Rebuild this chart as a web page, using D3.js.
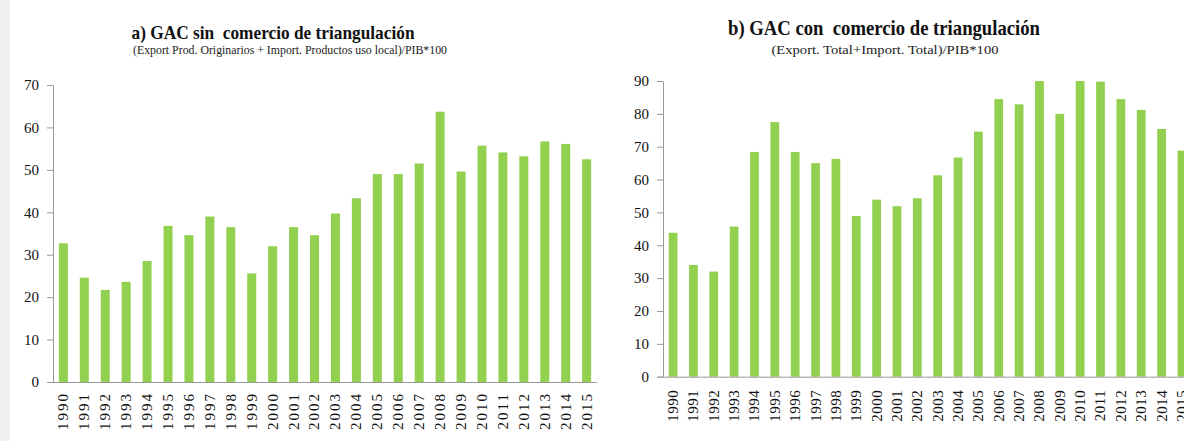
<!DOCTYPE html>
<html><head><meta charset="utf-8">
<script src="https://cdn.jsdelivr.net/npm/d3@7"></script>
<style>
body{margin:0;background:#fff;}
svg{display:block;font-family:"Liberation Serif","Times New Roman",serif;}
</style></head>
<body><svg id="c" width="1184" height="441"></svg>
<script>
const years = ["1990","1991","1992","1993","1994","1995","1996","1997","1998","1999","2000","2001","2002","2003","2004","2005","2006","2007","2008","2009","2010","2011","2012","2013","2014","2015"];
const valuesA = [32.7,24.6,21.7,23.6,28.5,36.8,34.6,39.0,36.5,25.6,32.0,36.5,34.6,39.7,43.3,49.0,49.0,51.5,63.7,49.6,55.7,54.1,53.2,56.7,56.1,52.5];
const valuesB = [43.8,34.0,32.0,45.7,68.4,77.5,68.4,65.0,66.3,48.9,53.9,51.9,54.3,61.3,66.7,74.6,84.5,82.9,90.3,80.0,90.3,89.8,84.5,81.2,75.4,68.8];
const ticksA = [0,10,20,30,40,50,60,70];
const ticksB = [0,10,20,30,40,50,60,70,80,90];
const titleA = "a) GAC sin  comercio de triangulación";
const subA = "(Export Prod. Originarios + Import. Productos uso local)/PIB*100";
const titleB = "b) GAC con  comercio de triangulación";
const subB = "(Export. Total+Import. Total)/PIB*100";

const FONT = '"Liberation Serif","Times New Roman",serif';
const svg = d3.select("#c");
svg.append("rect").attr("x",0).attr("y",0).attr("width",10).attr("height",441).attr("fill","#f0f0f0");

function panel(cfg){
  const g = svg.append("g");
  const x = d3.scaleBand().domain(years).range([cfg.x0, cfg.x1]).paddingInner(0.57).paddingOuter(0.28);
  const y = d3.scaleLinear().domain([0, cfg.max]).range([cfg.y0, cfg.y1]);
  g.selectAll("rect.bar").data(cfg.values).join("rect")
    .attr("class","bar")
    .attr("x",(d,i)=>x(years[i]))
    .attr("width",x.bandwidth())
    .attr("y",d=>y(Math.min(d,cfg.max)))
    .attr("height",d=>y(0)-y(Math.min(d,cfg.max)))
    .attr("fill","#92d050");
  // y axis
  const ya = g.append("g").attr("transform",`translate(${cfg.x0},0)`)
    .call(d3.axisLeft(y).tickValues(cfg.ticks).tickSize(6).tickPadding(8).tickSizeOuter(0))
    .attr("font-family",FONT);
  ya.select(".domain").attr("stroke","#999");
  ya.selectAll(".tick line").attr("stroke","#999");
  ya.selectAll(".tick text").attr("font-size",15).attr("fill","#111");
  // x axis
  const xa = g.append("g").attr("transform",`translate(0,${cfg.y0})`)
    .call(d3.axisBottom(x).tickSize(0).tickSizeOuter(0).tickPadding(0))
    .attr("font-family",FONT);
  xa.select(".domain").attr("stroke","#999").attr("d",`M${cfg.x0-6},0.5H${cfg.x1}`);
  xa.selectAll(".tick text")
    .attr("font-size",15).attr("fill","#111")
    .attr("letter-spacing",cfg.ls)
    .attr("text-anchor","end")
    .attr("transform",`translate(0,${cfg.lab}) rotate(-90)`)
    .attr("x",0).attr("y",0).attr("dy","0.33em");
  svg.append("text").attr("x",cfg.tx).attr("y",cfg.ty).attr("text-anchor","middle")
    .attr("font-weight","bold").attr("font-size",cfg.tfs).style("white-space","pre").attr("fill","#111")
    .attr("textLength",cfg.tw).attr("lengthAdjust","spacingAndGlyphs").text(cfg.title);
  svg.append("text").attr("x",cfg.sx).attr("y",cfg.sy).attr("text-anchor","middle")
    .attr("font-size",13.5).attr("fill","#222")
    .attr("textLength",cfg.sw).attr("lengthAdjust","spacingAndGlyphs").text(cfg.sub);
}
panel({values:valuesA,ticks:ticksA,max:70,x0:53,x1:597,y0:382,y1:85,lab:10,ls:2,
  title:titleA,sub:subA,tx:273,ty:39,tfs:19,tw:283,sx:290,sy:54,sw:314});
panel({values:valuesB,ticks:ticksB,max:90,x0:663,x1:1192,y0:376.7,y1:81,lab:13,ls:0.5,
  title:titleB,sub:subB,tx:884,ty:35,tfs:21,tw:312,sx:885,sy:54,sw:227});
</script></body></html>
